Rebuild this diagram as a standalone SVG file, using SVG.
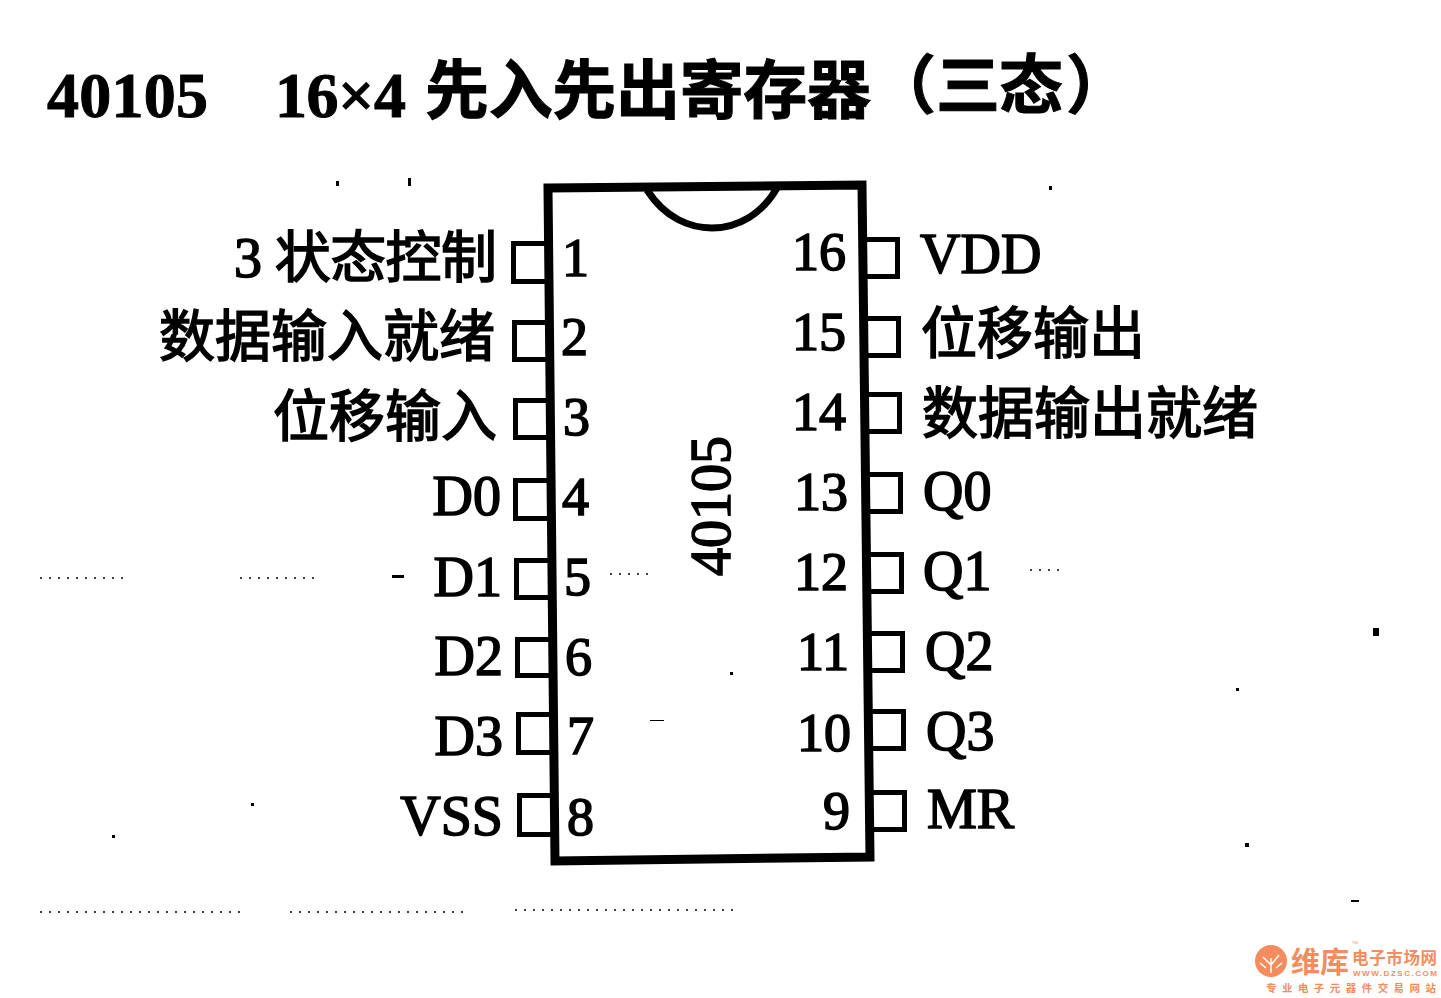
<svg xmlns="http://www.w3.org/2000/svg" width="1441" height="998" viewBox="0 0 1441 998">
<style>
.t{font-family:"Liberation Serif","Noto Sans CJK SC",serif;fill:#000;stroke:#000;stroke-width:1.6px;font-size:56px}
.n{font-size:54px}
.e{text-anchor:end}
.h{font-family:"Liberation Serif","Noto Sans CJK SC",serif;font-weight:bold;fill:#000;stroke:#000;stroke-width:1px;font-size:64px}
.box{fill:#fff;stroke:#000;stroke-width:5}
.w{font-family:"Noto Sans CJK SC","Liberation Sans",sans-serif;fill:#f58c5e;font-weight:bold}
.dots{fill:none;stroke:#000;stroke-width:1.500;stroke-dasharray:2 7}
</style>
<rect width="1441" height="998" fill="#fff"/>
<g id="title">
<text class="h" x="47" y="117" textLength="161">40105</text>
<text class="h" x="275" y="117" textLength="131">16×4</text>
<text class="h" x="425" y="113" textLength="446">先入先出寄存器</text>
<text class="h" x="872" y="108">（</text>
<text class="h" x="936" y="108" textLength="127">三态</text>
<text class="h" x="1066" y="108">）</text>
</g>
<g id="connectors">
<rect class="box" x="513.500" y="243.500" width="35" height="38"/>
<rect class="box" x="514.500" y="322.500" width="35" height="37"/>
<rect class="box" x="515.500" y="400.500" width="35" height="37"/>
<rect class="box" x="515.500" y="480.500" width="36" height="38"/>
<rect class="box" x="516.500" y="560.500" width="36" height="37"/>
<rect class="box" x="517.500" y="639.500" width="36" height="36"/>
<rect class="box" x="518.500" y="714.500" width="36" height="38"/>
<rect class="box" x="519.500" y="795.500" width="36" height="39"/>
<rect class="box" x="862.500" y="239.500" width="35" height="37"/>
<rect class="box" x="863.500" y="318.500" width="35" height="37"/>
<rect class="box" x="864.500" y="394.500" width="35" height="37"/>
<rect class="box" x="865.500" y="474.500" width="35" height="37"/>
<rect class="box" x="866.500" y="554.500" width="35" height="37"/>
<rect class="box" x="867.500" y="633.500" width="35" height="37"/>
<rect class="box" x="868.500" y="711.500" width="35" height="37"/>
<rect class="box" x="869.500" y="792.500" width="35" height="37"/>
</g>
<g id="chip">
<path d="M548 188L862 185L870 857L555 861Z" fill="#fff" stroke="#000" stroke-width="9"/>
<path d="M647 190C665 218 690 228 712 228C738 228 762 214 777 188" fill="none" stroke="#000" stroke-width="7"/>
<text class="t" transform="translate(730 576) rotate(-90)" textLength="140">40105</text>
</g>
<g id="pin1"><text class="t e" x="497" y="277" textLength="263">3 状态控制</text><text class="t n" x="562" y="276">1</text></g>
<g id="pin2"><text class="t e" x="495" y="356">数据输入就绪</text><text class="t n" x="561" y="355">2</text></g>
<g id="pin3"><text class="t e" x="497" y="436">位移输入</text><text class="t n" x="563" y="435">3</text></g>
<g id="pin4"><text class="t e" x="501" y="515">D0</text><text class="t n" x="562" y="515">4</text></g>
<g id="pin5"><text class="t e" x="502" y="596">D1</text><text class="t n" x="564" y="595">5</text></g>
<g id="pin6"><text class="t e" x="503" y="675">D2</text><text class="t n" x="565" y="675">6</text></g>
<g id="pin7"><text class="t e" x="503" y="755">D3</text><text class="t n" x="567" y="754">7</text></g>
<g id="pin8"><text class="t e" x="503" y="835">VSS</text><text class="t n" x="567" y="835">8</text></g>
<g id="pin16"><text class="t n e" x="846" y="270">16</text><text class="t" x="920" y="273">VDD</text></g>
<g id="pin15"><text class="t n e" x="846" y="350">15</text><text class="t" x="921" y="353">位移输出</text></g>
<g id="pin14"><text class="t n e" x="846" y="430">14</text><text class="t" x="922" y="433">数据输出就绪</text></g>
<g id="pin13"><text class="t n e" x="848" y="510">13</text><text class="t" x="923" y="510">Q0</text></g>
<g id="pin12"><text class="t n e" x="848" y="590">12</text><text class="t" x="923" y="590">Q1</text></g>
<g id="pin11"><text class="t n e" x="849" y="670">11</text><text class="t" x="925" y="670">Q2</text></g>
<g id="pin10"><text class="t n e" x="851" y="751">10</text><text class="t" x="926" y="750">Q3</text></g>
<g id="pin9"><text class="t n e" x="850" y="829">9</text><text class="t" x="927" y="828">MR</text></g>
<path id="specks" d="M1373 628h6v8h-6zM1245 843h4v4h-4zM392 575h12v3h-12zM112 835h3v3h-3zM408 178h3v8h-3zM336 181h3v5h-3zM1049 186h3v4h-3zM251 803h3v3h-3zM1351 900h8v2h-8zM1236 688h3v3h-3zM730 672h3v3h-3zM650 720h14v1h-14z" fill="#000"/>
<path id="speck-rows" class="dots" d="M40 578H130M240 578H315M610 574H655M40 912H240M290 912H470M515 910H740M1030 570H1060"/>
<g id="watermark">
<circle cx="1271" cy="961" r="16" fill="#f58c5e"/>
<path d="M1271 973V958M1271 965L1263 957M1271 965L1279 955M1266 968L1260 963M1276 968L1282 963" fill="none" stroke="#fff" stroke-width="1.500"/>
<text class="w" x="1291" y="973" font-size="29">维库</text>
<text class="w" x="1352" y="964" font-size="16.500" textLength="85">电子市场网</text>
<text x="1353" y="976" font-family="Liberation Sans" font-weight="bold" fill="#f58c5e" font-size="8" textLength="84">WWW.DZSC.COM</text>
<text x="1352" y="944" font-family="Liberation Sans" fill="#f58c5e" font-size="4">TM</text>
<text class="w" x="1266" y="992" font-size="10.500" font-weight="normal" textLength="170">专业电子元器件交易网站</text>
</g>
</svg>
